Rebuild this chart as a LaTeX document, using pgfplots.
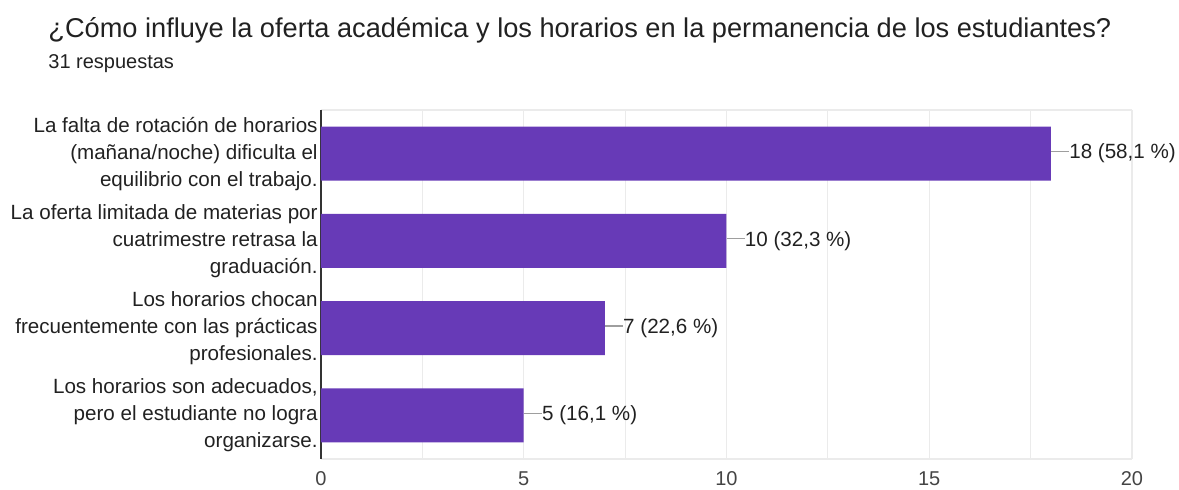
\documentclass[border=0pt]{standalone}
\usepackage{pgfplots}
\pgfplotsset{compat=1.18}
\usepackage{fontspec}
\setmainfont{Liberation Sans}
\definecolor{barpurple}{HTML}{673AB7}
\definecolor{gridgray}{HTML}{EBEBEB}
\definecolor{axisdark}{HTML}{333333}
\definecolor{txt}{HTML}{212121}
\definecolor{ticktxt}{HTML}{444444}
\definecolor{leader}{HTML}{9E9E9E}

\begin{document}
\begin{tikzpicture}
  % page = 1179x489 px at 0.5pt per px; axis lower-left corner at (0,0)
  \path[use as bounding box] (-160.5pt,-15pt) rectangle (429pt,229.5pt);
  \node[anchor=base west, inner sep=0pt, text=txt, font=\fontsize{13.6}{15}\selectfont]
    at (-136.5pt,211pt) {¿Cómo influye la oferta académica y los horarios en la permanencia de los estudiantes?};
  \node[anchor=base west, inner sep=0pt, text=txt, font=\fontsize{10}{12}\selectfont]
    at (-136.5pt,195.5pt) {31 respuestas};
  \begin{axis}[
      at={(0,0)}, anchor=south west,
      scale only axis,
      width=405.5pt, height=174.5pt,
      xbar, bar width=27pt,
      xmin=0, xmax=20,
      ymin=-0.5, ymax=3.5,
      y dir=reverse,
      xtick={0,5,10,15,20},
      minor xtick={2.5,7.5,12.5,17.5},
      xmajorgrids, xminorgrids,
      grid style={draw=gridgray, line width=0.6pt},
      minor grid style={draw=gridgray, line width=0.6pt},
      major tick length=0pt, minor tick length=0pt,
      axis y line*=left,
      y axis line style={draw=axisdark, line width=1pt},
      x axis line style={draw=gridgray, line width=0.6pt},
      /pgf/number format/assume math mode=true,
      ytick={0,1,2,3},
      yticklabels={
        {La falta de rotación de horarios\\(mañana/noche) dificulta el\\equilibrio con el trabajo.},
        {La oferta limitada de materias por\\cuatrimestre retrasa la\\graduación.},
        {Los horarios chocan\\frecuentemente con las prácticas\\profesionales.},
        {Los horarios son adecuados,\\pero el estudiante no logra\\organizarse.}},
      yticklabel style={align=right, anchor=east, inner sep=0pt, xshift=-1.5pt,
        text=txt, font=\fontsize{10.3}{13.5}\selectfont},
      xticklabel style={anchor=center, inner sep=0pt, yshift=-10pt,
        text=ticktxt, font=\fontsize{10}{12}\selectfont},
      point meta=explicit symbolic,
      nodes near coords={\textcolor{leader}{\rule[0.33em]{9pt}{0.6pt}}\pgfplotspointmeta},
      nodes near coords style={anchor=west, inner sep=0pt, text=txt,
        font=\fontsize{10.3}{12}\selectfont},
    ]
    \addplot[fill=barpurple, draw=none] coordinates {
      (18,0) [18 (58,1 \%)]
      (10,1) [10 (32,3 \%)]
      (7,2)  [7 (22,6 \%)]
      (5,3)  [5 (16,1 \%)]
    };
  \end{axis}
\end{tikzpicture}
\end{document}
